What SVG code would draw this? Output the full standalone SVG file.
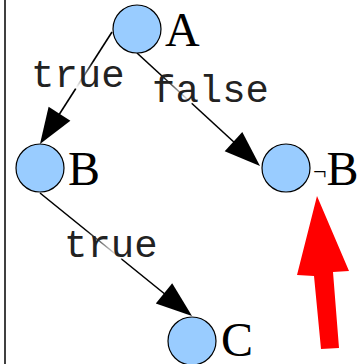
<svg xmlns="http://www.w3.org/2000/svg" width="362" height="364" viewBox="0 0 362 364">
<style>
.node{fill:#99ccff;stroke:#000;stroke-width:1.2}
.lbl{font-family:"Liberation Serif","Times New Roman",serif;font-size:48px;fill:#000}
.elbl{font-family:"Liberation Mono","Courier New",monospace;font-size:39px;fill:#222}
.edge{fill:none;stroke-width:1.6}
.head{fill:#000;stroke:none}
</style>
<defs>
<linearGradient id="gAB" gradientUnits="userSpaceOnUse" x1="112" y1="32" x2="40" y2="144">
<stop offset="0" stop-color="#000"/><stop offset="0.26" stop-color="#000"/><stop offset="0.5" stop-color="#fff"/><stop offset="0.51" stop-color="#000"/><stop offset="1" stop-color="#000"/>
</linearGradient>
<linearGradient id="gAnB" gradientUnits="userSpaceOnUse" x1="137" y1="53" x2="260" y2="166">
<stop offset="0" stop-color="#000"/><stop offset="0.2" stop-color="#000"/><stop offset="0.44" stop-color="#fff"/><stop offset="0.45" stop-color="#000"/><stop offset="1" stop-color="#000"/>
</linearGradient>
<linearGradient id="gBC" gradientUnits="userSpaceOnUse" x1="40" y1="193" x2="192" y2="316">
<stop offset="0" stop-color="#000"/><stop offset="0.3" stop-color="#000"/><stop offset="0.53" stop-color="#fff"/><stop offset="0.54" stop-color="#000"/><stop offset="1" stop-color="#000"/>
</linearGradient>
</defs>
<line x1="5" y1="0" x2="5" y2="364" stroke="#000" stroke-width="1.5"/>
<g id="connectors">
<g id="edge-A-B">
<line class="edge" x1="112" y1="32" x2="55" y2="121" stroke="url(#gAB)"/>
<polygon class="head" points="40,144 70.4,120.7 48.6,106.7"/>
<text class="elbl" x="31" y="87">true</text>
</g>
<g id="edge-A-notB">
<line class="edge" x1="137" y1="53" x2="236" y2="144" stroke="url(#gAnB)"/>
<polygon class="head" points="260,166 224.7,151.2 242.3,132"/>
<text class="elbl" x="152" y="102">false</text>
</g>
<g id="edge-B-C">
<line class="edge" x1="40" y1="193" x2="166" y2="295" stroke="url(#gBC)"/>
<polygon class="head" points="192,316 155.8,303.5 172.2,283.3"/>
<text class="elbl" x="64" y="257">true</text>
</g>
</g>
<g id="node-A">
<circle class="node" cx="137" cy="29" r="24"/>
<text class="lbl" x="165" y="46">A</text>
</g>
<g id="node-B">
<circle class="node" cx="40" cy="168" r="24"/>
<text class="lbl" x="68" y="185">B</text>
</g>
<g id="node-notB">
<circle class="node" cx="286" cy="168" r="24"/>
<text class="lbl" x="313" y="185"><tspan font-size="24" dy="-6">¬</tspan><tspan dy="6">B</tspan></text>
</g>
<g id="node-C">
<circle class="node" cx="192" cy="341" r="24"/>
<text class="lbl" x="221" y="356">C</text>
</g>
<polygon id="red-arrow" fill="#ff0000" points="317,196 349,271 333,272 339,348 321,349 314,276 297,275"/>
</svg>
